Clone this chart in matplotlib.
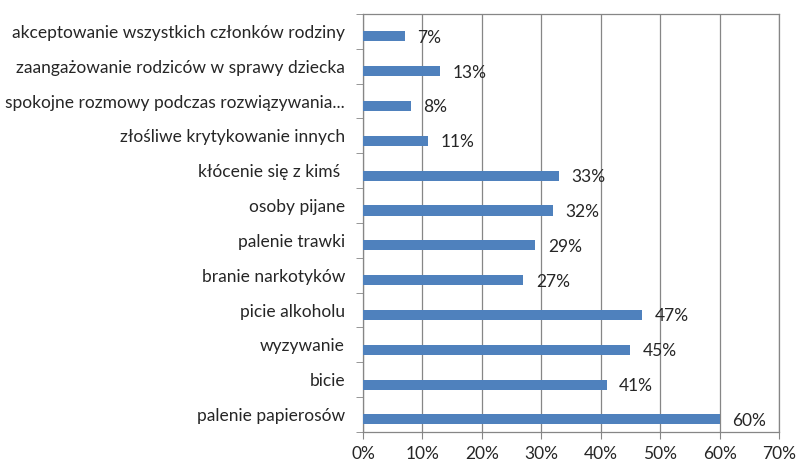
import numpy as np
import matplotlib.pyplot as plt
from matplotlib.ticker import FixedLocator

# bottom-to-top order
categories = [
    "palenie papierosów",
    "bicie",
    "wyzywanie",
    "picie alkoholu",
    "branie narkotyków",
    "palenie trawki",
    "osoby pijane",
    "kłócenie się z kimś ",
    "złośliwe krytykowanie innych",
    "spokojne rozmowy podczas rozwiązywania...",
    "zaangażowanie rodziców w sprawy dziecka",
    "akceptowanie wszystkich członków rodziny",
]
values = [60, 41, 45, 47, 27, 29, 32, 33, 11, 8, 13, 7]
xticks = [0, 10, 20, 30, 40, 50, 60, 70]

plt.rcParams["font.family"] = ["Lato", "DejaVu Sans"]

fig = plt.figure(figsize=(7.97, 4.65), dpi=100)
ax = fig.add_axes([0.4555, 0.071, 0.5219, 0.8989])

y = np.arange(len(categories))
# bars sit a little below the category centre, as in the original Excel chart
bar_y = y - 0.14
ax.barh(bar_y, values, height=0.29, color="#4F81BD", zorder=3)

for yi, v in zip(bar_y, values):
    ax.annotate(f"{v}%", (v, yi), xytext=(9, -1), textcoords="offset points",
                ha="left", va="center", fontsize=12.5, color="#262626")

ax.set_xlim(0, 70)
ax.set_ylim(-0.5, len(categories) - 0.5)
ax.set_xticks(xticks)
ax.set_xticklabels([f"{t}%" for t in xticks], fontsize=12.5, color="#262626")
ax.set_yticks(y)
ax.set_yticklabels(categories, fontsize=12.5, color="#262626")
ax.tick_params(axis="y", which="major", length=0, pad=13)
ax.yaxis.set_minor_locator(FixedLocator(np.arange(-0.5, len(categories), 1)))
ax.tick_params(axis="y", which="minor", length=5, color="#868686")
ax.tick_params(axis="x", which="major", length=5, color="#868686", pad=5)

ax.grid(axis="x", color="#868686", linewidth=0.9, zorder=0)
for s in ax.spines.values():
    s.set_color("#868686")
    s.set_linewidth(0.9)

fig.savefig("out.png", dpi=100)
